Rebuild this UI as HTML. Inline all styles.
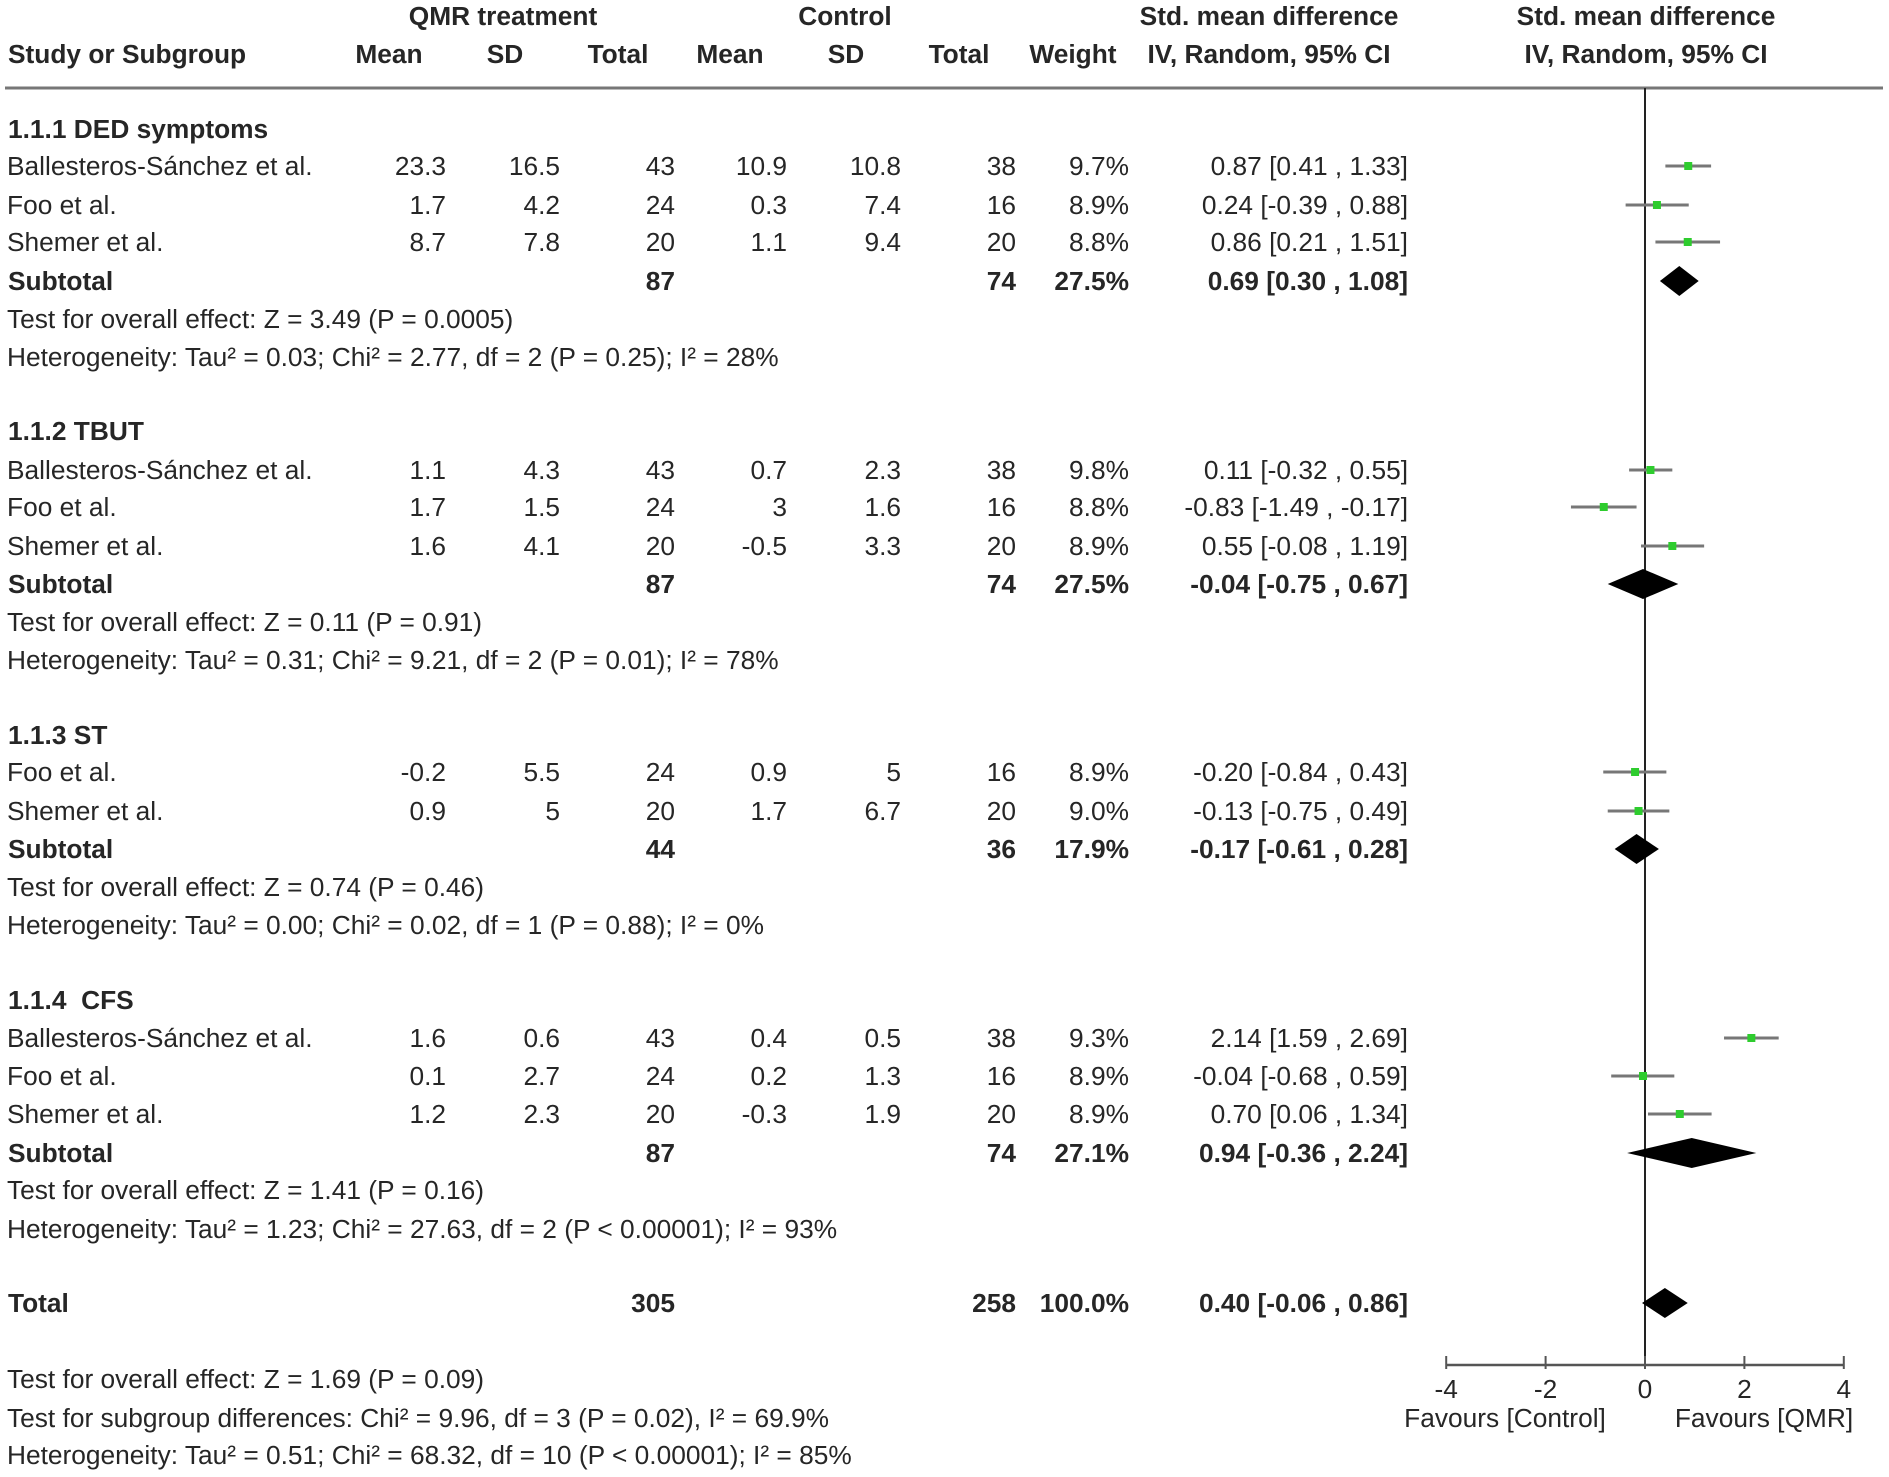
<!DOCTYPE html>
<html><head><meta charset="utf-8"><style>
html,body{margin:0;padding:0;background:#fff;}
svg{display:block;font-family:"Liberation Sans",Arial,sans-serif;}
</style></head><body>
<svg id="plot" width="1889" height="1477" viewBox="0 0 1889 1477" xmlns="http://www.w3.org/2000/svg"></svg>
<script>
const studyNames=["Ballesteros-Sánchez et al.","Foo et al.","Shemer et al.","Ballesteros-Sánchez et al.","Foo et al.","Shemer et al.","Foo et al.","Shemer et al.","Ballesteros-Sánchez et al.","Foo et al.","Shemer et al."];
const studyRowY=[166,205,242,470,507,546,772,811,1038,1076,1114];
const qmrMean=["23.3","1.7","8.7","1.1","1.7","1.6","-0.2","0.9","1.6","0.1","1.2"];
const qmrSD=["16.5","4.2","7.8","4.3","1.5","4.1","5.5","5","0.6","2.7","2.3"];
const qmrTotal=["43","24","20","43","24","20","24","20","43","24","20"];
const ctlMean=["10.9","0.3","1.1","0.7","3","-0.5","0.9","1.7","0.4","0.2","-0.3"];
const ctlSD=["10.8","7.4","9.4","2.3","1.6","3.3","5","6.7","0.5","1.3","1.9"];
const ctlTotal=["38","16","20","38","16","20","16","20","38","16","20"];
const weights=["9.7%","8.9%","8.8%","9.8%","8.8%","8.9%","8.9%","9.0%","9.3%","8.9%","8.9%"];
const smd=[0.87,0.24,0.86,0.11,-0.83,0.55,-0.20,-0.13,2.14,-0.04,0.70];
const ciLow=[0.41,-0.39,0.21,-0.32,-1.49,-0.08,-0.84,-0.75,1.59,-0.68,0.06];
const ciHigh=[1.33,0.88,1.51,0.55,-0.17,1.19,0.43,0.49,2.69,0.59,1.34];
const groupTitles=["1.1.1 DED symptoms","1.1.2 TBUT","1.1.3 ST","1.1.4\u00a0\u00a0CFS"];
const groupTitleY=[129,431,735,1000];
const subLabels=["Subtotal","Subtotal","Subtotal","Subtotal","Total"];
const subY=[281,584,849,1153,1303];
const subQmrTotal=["87","87","44","87","305"];
const subCtlTotal=["74","74","36","74","258"];
const subWeight=["27.5%","27.5%","17.9%","27.1%","100.0%"];
const subEst=[0.69,-0.04,-0.17,0.94,0.40];
const subLow=[0.30,-0.75,-0.61,-0.36,-0.06];
const subHigh=[1.08,0.67,0.28,2.24,0.86];
const noteTexts=["Test for overall effect: Z = 3.49 (P = 0.0005)","Heterogeneity: Tau² = 0.03; Chi² = 2.77, df = 2 (P = 0.25); I² = 28%","Test for overall effect: Z = 0.11 (P = 0.91)","Heterogeneity: Tau² = 0.31; Chi² = 9.21, df = 2 (P = 0.01); I² = 78%","Test for overall effect: Z = 0.74 (P = 0.46)","Heterogeneity: Tau² = 0.00; Chi² = 0.02, df = 1 (P = 0.88); I² = 0%","Test for overall effect: Z = 1.41 (P = 0.16)","Heterogeneity: Tau² = 1.23; Chi² = 27.63, df = 2 (P < 0.00001); I² = 93%","Test for overall effect: Z = 1.69 (P = 0.09)","Test for subgroup differences: Chi² = 9.96, df = 3 (P = 0.02), I² = 69.9%","Heterogeneity: Tau² = 0.51; Chi² = 68.32, df = 10 (P < 0.00001); I² = 85%"];
const noteY=[319,357,622,660,887,925,1190,1229,1379,1418,1455];
const axisTicks=[-4,-2,0,2,4];

const svg=document.getElementById('plot');
const NS="http://www.w3.org/2000/svg";
const X0=1645, UNIT=49.7, AXY=1365, FS=26.3;
function xs(v){return X0+v*UNIT;}
function fmt(v){return v.toFixed(2);}
function mk(tag,attrs){const e=document.createElementNS(NS,tag);for(const k in attrs)e.setAttribute(k,attrs[k]);svg.appendChild(e);return e;}
function txt(s,x,y,anchor,bold,name){const t=mk('text',{x:x,y:y+9,'text-anchor':anchor,'font-size':FS,'fill':'#262626','font-weight':bold?'bold':'normal'});t.textContent=s;


return t;}

txt("QMR treatment",503,16,'middle',true,'qmr-header');
txt("Control",845,16,'middle',true,'control-header');
txt("Std. mean difference",1269,16,'middle',true,'smd-header');
txt("Std. mean difference",1646,16,'middle',true,'plot-header');
txt("Study or Subgroup",8,54,'start',true,'study-header');
txt("Mean",389,54,'middle',true,'qmr-mean-header');
txt("SD",505,54,'middle',true,'qmr-sd-header');
txt("Total",618,54,'middle',true,'qmr-total-header');
txt("Mean",730,54,'middle',true,'ctl-mean-header');
txt("SD",846,54,'middle',true,'ctl-sd-header');
txt("Total",959,54,'middle',true,'ctl-total-header');
txt("Weight",1073,54,'middle',true,'weight-header');
txt("IV, Random, 95% CI",1269,54,'middle',true,'ci-header');
txt("IV, Random, 95% CI",1646,54,'middle',true,'plot-subheader');
let hl=mk('line',{x1:5,y1:88,x2:1883,y2:88,stroke:'#777','stroke-width':3});



let zl=mk('line',{x1:X0,y1:88,x2:X0,y2:AXY,stroke:'#222','stroke-width':2});



groupTitles.forEach((g,i)=>txt(g,8,groupTitleY[i],'start',true,'group-title'));
noteTexts.forEach((n,i)=>txt(n,7,noteY[i],'start',false,'note-text'));

studyNames.forEach((s,i)=>{
  const y=studyRowY[i];
  txt(s,7,y,'start',false,'study-name');
  txt(qmrMean[i],446,y,'end',false,'qmr-mean');
  txt(qmrSD[i],560,y,'end',false,'qmr-sd');
  txt(qmrTotal[i],675,y,'end',false,'qmr-total');
  txt(ctlMean[i],787,y,'end',false,'ctl-mean');
  txt(ctlSD[i],901,y,'end',false,'ctl-sd');
  txt(ctlTotal[i],1016,y,'end',false,'ctl-total');
  txt(weights[i],1129,y,'end',false,'weight');
  txt(fmt(smd[i])+" ["+fmt(ciLow[i])+" , "+fmt(ciHigh[i])+"]",1408,y,'end',false,'smd-ci');
  const l=mk('line',{x1:xs(ciLow[i]),y1:y,x2:xs(ciHigh[i]),y2:y,stroke:'#777','stroke-width':3});
  
  
  const b=mk('rect',{x:xs(smd[i])-4,y:y-4,width:8,height:8,fill:'#2ecc2e'});
  
  
});

subLabels.forEach((s,i)=>{
  const y=subY[i];
  txt(s,8,y,'start',true,'subtotal-label');
  txt(subQmrTotal[i],675,y,'end',true,'subtotal-qmr-total');
  txt(subCtlTotal[i],1016,y,'end',true,'subtotal-ctl-total');
  txt(subWeight[i],1129,y,'end',true,'subtotal-weight');
  txt(fmt(subEst[i])+" ["+fmt(subLow[i])+" , "+fmt(subHigh[i])+"]",1408,y,'end',true,'subtotal-ci');
  const p=mk('polygon',{points:`${xs(subLow[i])},${y} ${xs(subEst[i])},${y-15} ${xs(subHigh[i])},${y} ${xs(subEst[i])},${y+15}`,fill:'#000'});
  
  
});

let ax=mk('line',{x1:xs(axisTicks[0]),y1:AXY,x2:xs(axisTicks[axisTicks.length-1]),y2:AXY,stroke:'#555','stroke-width':2.5});


axisTicks.forEach(t=>{
  const tk=mk('line',{x1:xs(t),y1:AXY-9,x2:xs(t),y2:AXY+4,stroke:'#555','stroke-width':2});
  
  
  txt(String(t),xs(t),1389,'middle',false,'tick-label');
});
txt("Favours [Control]",1505,1418,'middle',false,'favours-control');
txt("Favours [QMR]",1764,1418,'middle',false,'favours-qmr');
</script>
</body></html>
